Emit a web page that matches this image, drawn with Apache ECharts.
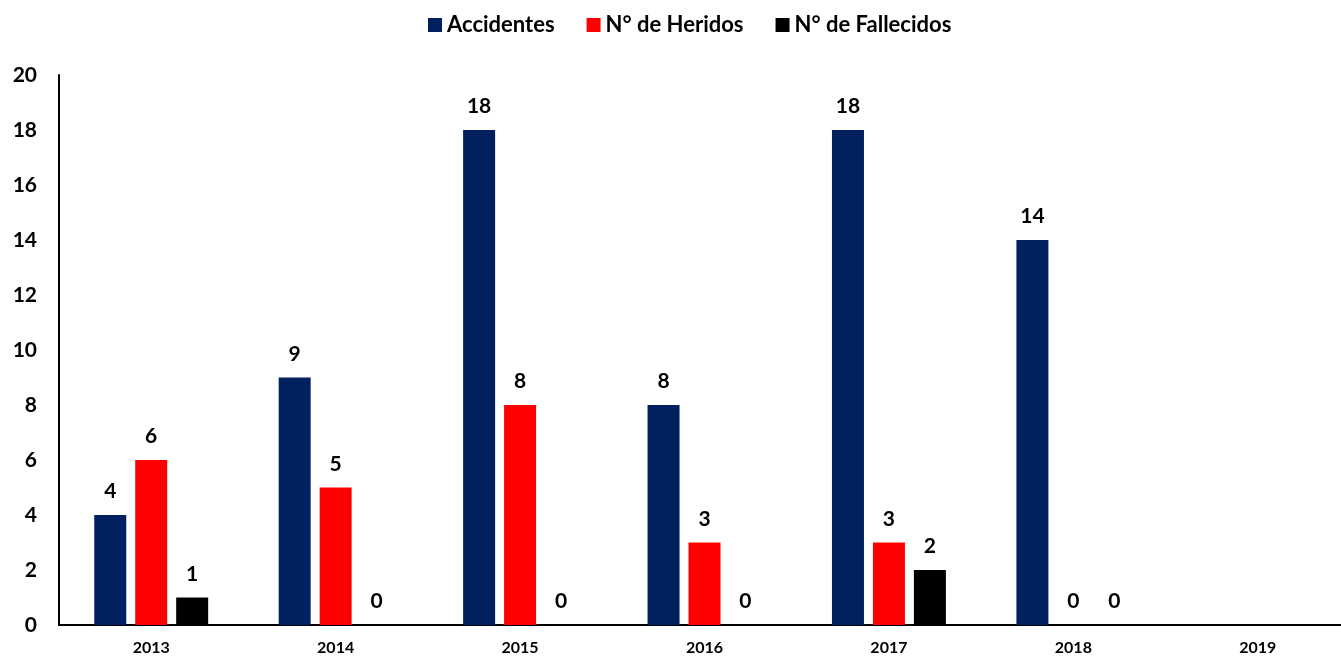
<!DOCTYPE html>
<html>
<head>
<meta charset="utf-8">
<script src="https://cdn.jsdelivr.net/npm/echarts@6/dist/echarts.min.js"></script>
<style>
html,body{margin:0;padding:0;background:#fff;overflow:hidden;}
#main{width:1350px;height:657px;}
</style>
</head>
<body>
<div id="main"></div>
<script>
const categories = ['2013','2014','2015','2016','2017','2018','2019'];
const accidentes = [4, 9, 18, 8, 18, 14, null];
const heridos = [6, 5, 8, 3, 3, 0, null];
const fallecidos = [1, 0, 0, 0, 2, 0, null];
const seriesNames = ['Accidentes', 'N° de Heridos', 'N° de Fallecidos'];
const colors = ['#002060', '#FF0000', '#000000'];

const FONT = 'Lato, "Open Sans", sans-serif';
const chart = echarts.init(document.getElementById('main'));
const label = {
  show: true, position: 'top', distance: 13,
  color: '#000', fontWeight: 'bold', fontSize: 21, fontFamily: FONT
};
function mk(name, data, color) {
  return {
    name, type: 'bar', data, barWidth: 32, barGap: '28%',
    itemStyle: { color }, label, animation: false
  };
}
chart.setOption({
  animation: false,
  legend: {
    top: 9, left: 423, itemWidth: 14, itemHeight: 14, itemGap: 32,
    icon: 'rect',
    textStyle: { fontSize: 22, fontWeight: 'bold', color: '#000', fontFamily: FONT },
    data: seriesNames
  },
  grid: { left: 59, right: 0, top: 75, bottom: 32, containLabel: false },
  xAxis: {
    type: 'category', data: categories,
    axisLine: { lineStyle: { color: '#000', width: 2 } },
    axisTick: { show: false },
    axisLabel: { color: '#000', fontWeight: 'bold', fontSize: 16, fontFamily: FONT, margin: 15 }
  },
  yAxis: {
    type: 'value', min: 0, max: 20, interval: 2,
    splitLine: { show: false },
    axisLine: { show: true, lineStyle: { color: '#000', width: 2 } },
    axisTick: { show: false },
    axisLabel: { color: '#000', fontWeight: 'bold', fontSize: 21, fontFamily: FONT, margin: 22 }
  },
  series: [
    mk(seriesNames[0], accidentes, colors[0]),
    mk(seriesNames[1], heridos, colors[1]),
    mk(seriesNames[2], fallecidos, colors[2])
  ]
});
</script>
</body>
</html>
